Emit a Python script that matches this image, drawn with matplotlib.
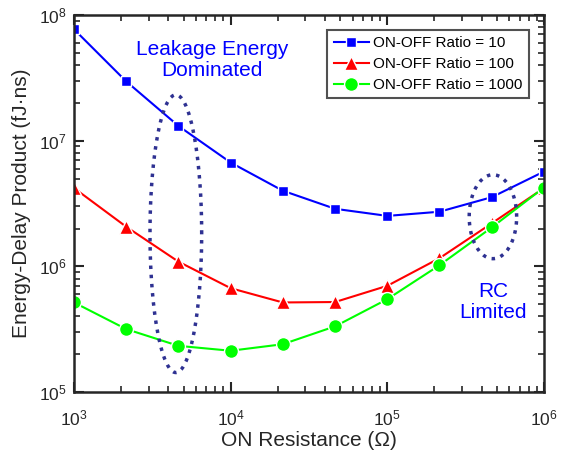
import numpy as np
import matplotlib
matplotlib.use("Agg")
import matplotlib.pyplot as plt
from matplotlib.ticker import LogLocator, NullFormatter, LogFormatterMathtext

plt.rcParams['font.family'] = ['Liberation Sans', 'DejaVu Sans']
plt.rcParams['mathtext.fontset'] = 'custom'
plt.rcParams['mathtext.rm'] = 'Liberation Sans'

resistance = [1e3, 2.15e3, 4.64e3, 1e4, 2.15e4, 4.64e4, 1e5, 2.15e5, 4.64e5, 1e6]
edp_ratio10 = [7.7e7, 2.97e7, 1.31e7, 6.7e6, 4.0e6, 2.87e6, 2.52e6, 2.72e6, 3.55e6, 5.68e6]
edp_ratio100 = [4.2e6, 2.07e6, 1.09e6, 6.7e5, 5.16e5, 5.2e5, 7.0e5, 1.16e6, 2.2e6, 4.2e6]
edp_ratio1000 = [5.16e5, 3.17e5, 2.33e5, 2.13e5, 2.40e5, 3.33e5, 5.48e5, 1.02e6, 2.04e6, 4.24e6]
labels = ['ON-OFF Ratio = 10', 'ON-OFF Ratio = 100', 'ON-OFF Ratio = 1000']

fig = plt.figure(figsize=(5.61, 4.62), dpi=100)
ax = fig.add_axes([0.1319, 0.1515, 0.8378, 0.816])

mk = dict(mec='white', mew=1.0)
ax.plot(resistance, edp_ratio10, '-s', color='#0000FF', lw=1.5, ms=7, label=labels[0], **mk)
ax.plot(resistance, edp_ratio100, '-^', color='#FF0000', lw=1.5, ms=9.5, label=labels[1], **mk)
ax.plot(resistance, edp_ratio1000, '-o', color='#00FF00', lw=1.5, ms=10, label=labels[2], **mk)

# annotation ellipses (in log space)
t = np.linspace(0, 2 * np.pi, 200)
ell_color = '#2E3192'
for cx, cy, w, h in [(3.65, 6.26, 0.33, 2.21), (5.674, 6.395, 0.303, 0.668)]:
    ex = 10 ** (cx + w / 2 * np.cos(t))
    ey = 10 ** (cy + h / 2 * np.sin(t))
    ax.plot(ex, ey, ':', color=ell_color, lw=2.5)

ax.text(7.6e3, 10 ** 7.64, 'Leakage Energy\nDominated', color='#0000FF', fontsize=15,
        ha='center', va='center', linespacing=1.15)
ax.text(4.72e5, 10 ** 5.715, 'RC\nLimited', color='#0000FF', fontsize=15,
        ha='center', va='center', linespacing=1.15)

ax.set_xscale('log')
ax.set_yscale('log')
ax.set_xlim(1e3, 1e6)
ax.set_ylim(1e5, 1e8)

for axis in (ax.xaxis, ax.yaxis):
    axis.set_major_locator(LogLocator(base=10, numticks=10))
    axis.set_minor_locator(LogLocator(base=10, subs=np.arange(2, 10), numticks=20))
    axis.set_minor_formatter(NullFormatter())
    axis.set_major_formatter(LogFormatterMathtext())

ax.tick_params(which='both', direction='in', top=True, right=True, color='#262626',
               labelsize=12.5, labelcolor='#262626')
ax.tick_params(which='major', length=7, width=1.5)
ax.tick_params(which='minor', length=4, width=1.2)
ax.tick_params(axis='x', pad=12)
ax.tick_params(axis='y', pad=5)
for s in ax.spines.values():
    s.set_linewidth(1.8)
    s.set_color('#262626')

ax.set_xlabel('ON Resistance (\u03a9)', fontsize=15, color='#262626', labelpad=2)
ax.set_ylabel('Energy-Delay Product (fJ\u00b7ns)', fontsize=15, color='#262626', labelpad=6)

leg = ax.legend(loc='upper right', fontsize=11, frameon=True, fancybox=False,
                edgecolor='#262626', handlelength=2.3, handletextpad=0.3,
                borderaxespad=1.0, labelspacing=0.45, borderpad=0.4)
leg.get_frame().set_linewidth(1.5)

fig.savefig('out.png', dpi=100)
